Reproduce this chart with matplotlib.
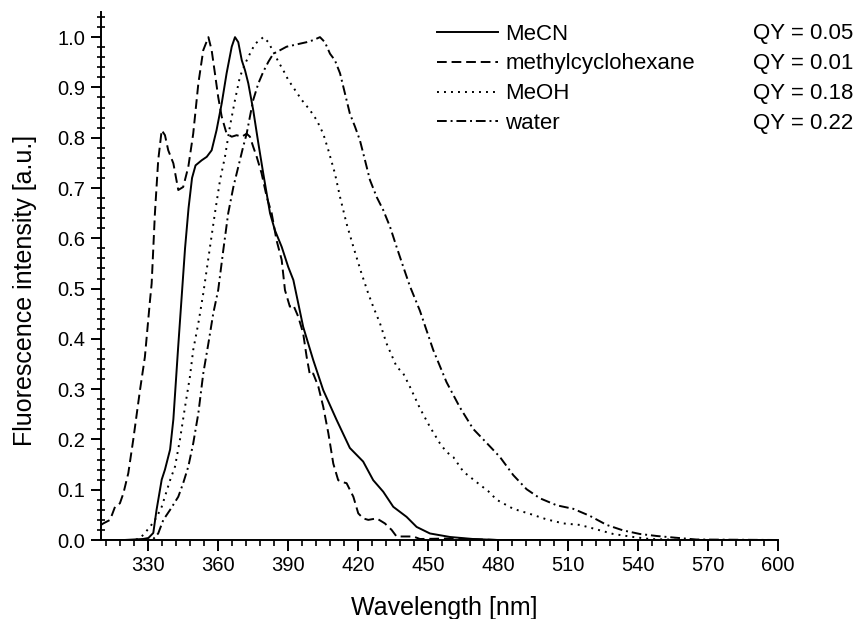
#!/usr/bin/env python

# fluorescence emission spectra in four solvents
import matplotlib
matplotlib.use('Agg')
import matplotlib.pyplot as plt
from matplotlib.ticker import MultipleLocator, FormatStrFormatter

plt.rcParams['font.family'] = ['Liberation Sans', 'DejaVu Sans']

# MeCN (solid)
mecn_x = [310, 320, 328, 330.3, 332.4, 333.8, 336, 337.4, 339.6, 341, 343, 344.5, 346, 347.5,
          349, 350.5, 353.1, 355.3, 357.4, 359.5, 361.7, 363.8, 366, 367.4, 368.8, 370.3, 371.7,
          373.1, 375.2, 377.4, 379.5, 382.4, 384.5, 387.4, 390.2, 392.4, 396.6, 400.9, 405.2,
          410.9, 416.6, 422.3, 426.6, 430.9, 435.2, 440.9, 445.2, 450.9, 459.5, 469.3, 480, 600]
mecn_y = [0, 0, 0.002, 0.004, 0.014, 0.06, 0.12, 0.14, 0.18, 0.24, 0.38, 0.48, 0.58, 0.66,
          0.72, 0.745, 0.755, 0.762, 0.775, 0.815, 0.868, 0.928, 0.981, 1.0, 0.99, 0.954, 0.934,
          0.908, 0.855, 0.789, 0.729, 0.65, 0.616, 0.583, 0.543, 0.517, 0.424, 0.358, 0.298,
          0.239, 0.183, 0.156, 0.119, 0.096, 0.066, 0.046, 0.026, 0.013, 0.006, 0.002, 0, 0]

# methylcyclohexane (dashed)
mch_x = [310, 311, 313.9, 316, 318.1, 319.6, 321.7, 323.8, 326.7, 328.8, 331, 331.7, 333.1,
         334.5, 336, 337.4, 338.8, 341, 343.1, 345.2, 347.4, 349.5, 351.7, 353.8, 356, 357.4,
         358.8, 360.2, 361.7, 363.8, 366, 368.1, 370.3, 372.4, 373.8, 375.2, 376.7, 378.8, 381,
         383.1, 385.2, 387.4, 388.8, 390.9, 392.4, 394.5, 396.6, 398.1, 399.5, 400.9, 403.1,
         405.2, 407.4, 409.5, 411.6, 413.5, 415.2, 418.1, 420.2, 422.3, 424.5, 428.1, 431.6,
         434.5, 436.6, 440.9, 443.8, 446.6, 460, 480, 600]
mch_y = [0.03, 0.033, 0.04, 0.066, 0.073, 0.093, 0.133, 0.199, 0.298, 0.364, 0.477, 0.51, 0.65,
         0.755, 0.815, 0.805, 0.775, 0.749, 0.696, 0.702, 0.742, 0.808, 0.908, 0.974, 1.0, 0.974,
         0.928, 0.881, 0.842, 0.808, 0.802, 0.805, 0.802, 0.808, 0.802, 0.782, 0.762, 0.729, 0.682,
         0.65, 0.596, 0.557, 0.497, 0.464, 0.467, 0.444, 0.411, 0.364, 0.328, 0.331, 0.305,
         0.265, 0.212, 0.152, 0.119, 0.115, 0.113, 0.086, 0.053, 0.043, 0.040, 0.043, 0.033,
         0.020, 0.007, 0.007, 0.007, 0.002, 0.003, 0, 0]

# MeOH (dotted)
meoh_x = [310, 324, 326.7, 331, 333.8, 336, 339.6, 341.7, 343.8, 346, 348.1, 349.5, 351.7,
          353.8, 356.7, 358.8, 361, 363.1, 365.2, 367.4, 369.5, 371.7, 373.8, 376, 378.1, 379.5,
          381.7, 383.8, 386, 388.1, 390.2, 393.1, 396, 399.5, 402.4, 405.2, 407.4, 410.2, 412.4,
          415.2, 418.1, 421.6, 424.5, 426.6, 429.5, 432.3, 436.6, 439.5, 442.3, 446.6, 450.9,
          455.2, 458, 460.9, 465.2, 470.9, 475.9, 479.5, 486.6, 493.7, 500.9, 508, 515.1, 520.8,
          529.4, 538, 545, 560, 600]
meoh_y = [0, 0, 0.003, 0.026, 0.045, 0.066, 0.119, 0.146, 0.199, 0.265, 0.325, 0.378, 0.431,
          0.49, 0.583, 0.65, 0.716, 0.762, 0.822, 0.875, 0.921, 0.947, 0.967, 0.987, 0.994, 1.0,
          0.99, 0.971, 0.951, 0.934, 0.915, 0.895, 0.875, 0.855, 0.835, 0.808, 0.775, 0.729, 0.682,
          0.629, 0.583, 0.53, 0.49, 0.464, 0.431, 0.391, 0.345, 0.331, 0.305, 0.262, 0.225,
          0.192, 0.175, 0.165, 0.136, 0.115, 0.097, 0.080, 0.062, 0.052, 0.041, 0.033, 0.030, 0.023,
          0.012, 0.006, 0.002, 0, 0]

# water (dash-dot)
water_x = [310, 330, 332.4, 334.5, 336.7, 339.6, 343.1, 345.2, 347.4, 349.5, 351.7, 353.8, 356,
           358.1, 360.2, 362.4, 364.5, 366.7, 368.8, 370.9, 372.4, 373.8, 375.2, 377.4, 379.5,
           381.7, 383.8, 386.7, 389.5, 392.4, 395.2, 398.1, 400.9, 403.8, 405.9, 408.1, 410.2,
           412.4, 414.5, 416.6, 418.8, 420.9, 423.1, 425.2, 428.1, 430.9, 433.8, 436.6, 439.5,
           442.3, 446.6, 452.3, 458, 463.7, 469.4, 475.2, 480.9, 486.6, 492.3, 498, 505.2, 512.3,
           519.4, 526.6, 533.7, 540.8, 548, 555, 565, 600]
water_y = [0, 0, 0.002, 0.013, 0.04, 0.06, 0.086, 0.113, 0.146, 0.192, 0.252, 0.331, 0.391,
           0.451, 0.497, 0.577, 0.65, 0.702, 0.742, 0.782, 0.808, 0.842, 0.875, 0.908, 0.931,
           0.951, 0.967, 0.974, 0.981, 0.984, 0.987, 0.99, 0.994, 1.0, 0.99, 0.967, 0.954,
           0.928, 0.888, 0.848, 0.822, 0.795, 0.755, 0.716, 0.682, 0.656, 0.623, 0.583, 0.543,
           0.505, 0.456, 0.378, 0.314, 0.264, 0.221, 0.193, 0.165, 0.129, 0.101, 0.083, 0.069, 0.062,
           0.048, 0.030, 0.019, 0.012, 0.008, 0.005, 0.001, 0]

names = ['MeCN', 'methylcyclohexane', 'MeOH', 'water']
qy_labels = ['QY = 0.05', 'QY = 0.01', 'QY = 0.18', 'QY = 0.22']

# set up the figure at 861 x 619 px
fig = plt.figure(figsize=(8.61, 6.19), dpi=100)
ax = fig.add_axes([101 / 861, 1 - 540 / 619, 677 / 861, 528 / 619])

lw = 1.4
ax.plot(mecn_x, mecn_y, color='black', lw=lw, linestyle='-', label=names[0])
ax.plot(mch_x, mch_y, color='black', lw=lw, linestyle=(0, (5, 2.5)), label=names[1])
ax.plot(meoh_x, meoh_y, color='black', lw=lw, linestyle=(0, (1, 2.6)), label=names[2])
ax.plot(water_x, water_y, color='black', lw=lw, linestyle=(0, (5, 2, 1, 2)), label=names[3])

ax.set_xlim(310, 600)
ax.set_ylim(0, 1.05)

# only left and bottom spines
ax.spines['top'].set_visible(False)
ax.spines['right'].set_visible(False)
ax.spines['left'].set_linewidth(1.4)
ax.spines['bottom'].set_linewidth(1.4)

ax.xaxis.set_major_locator(MultipleLocator(30))
ax.xaxis.set_minor_locator(MultipleLocator(6))
ax.yaxis.set_major_locator(MultipleLocator(0.1))
ax.yaxis.set_minor_locator(MultipleLocator(0.02))
ax.yaxis.set_major_formatter(FormatStrFormatter('%.1f'))

ax.tick_params(axis='x', which='major', direction='out', length=8, width=1.4,
               labelsize=14.5, pad=3.5)
ax.tick_params(axis='x', which='minor', direction='out', length=4.5, width=1.2)
ax.tick_params(axis='y', which='major', direction='out', length=7, width=1.4,
               labelsize=14.5, pad=4.5)
ax.tick_params(axis='y', which='minor', direction='inout', length=6, width=1.2)

ax.set_xlabel('Wavelength [nm]', fontsize=18, va='top')
ax.xaxis.set_label_coords(0.507, -0.106)
ax.set_ylabel('Fluorescence intensity [a.u.]', fontsize=18)
ax.yaxis.set_label_coords(-0.094, 0.472)

# legend on the right, QY values as a second column of text
leg = ax.legend(loc='upper left', bbox_to_anchor=(437 / 861, 1 - 23.5 / 619),
                bbox_transform=fig.transFigure, frameon=False, fontsize=16,
                handlelength=2.75, handletextpad=0.32, labelspacing=0.40,
                borderpad=0, borderaxespad=0)

for i, q in enumerate(qy_labels):
    fig.text(853 / 861, 1 - (38.5 + 30 * i) / 619, q, fontsize=16,
             ha='right', va='baseline')

fig.savefig('out.png', dpi=100)
